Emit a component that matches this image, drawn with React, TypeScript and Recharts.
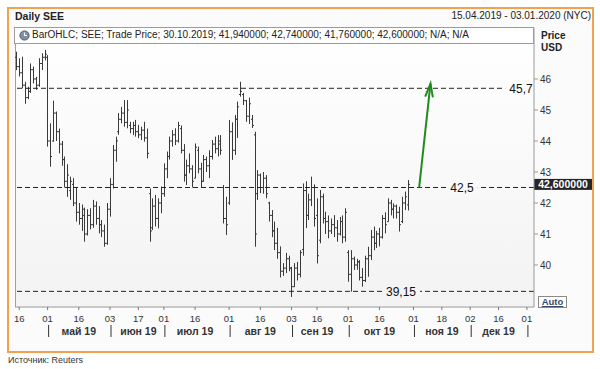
import React from 'react';
import { ComposedChart, Bar, XAxis, YAxis, ReferenceLine } from 'recharts';

const FONT = '"Liberation Sans", Arial, sans-serif';

// trading days counted from 15.04.2019; the axis runs on to 03.01.2020
const lastDay = 182;

const opens = [
  46.7, 46.4, 46.2, 45.8, 45.4, 45.6, 46.3, 46.0, 45.8, 46.5,
  46.7, 46.7, 44.0, 44.0, 44.9, 44.3, 43.9, 43.4, 42.7, 42.4,
  42.6, 42.0, 41.7, 41.5, 41.6, 41.0, 41.6, 41.3, 41.9, 41.5,
  41.3, 41.1, 40.7, 41.8, 42.6, 43.7, 44.3, 44.7, 44.9, 44.6,
  44.5, 44.4, 44.5, 44.3, 44.2, 44.35, 44.1, 42.3, 41.2, 41.9,
  41.5, 42.0, 42.3, 43.1, 43.5, 44.0, 44.2, 44.0, 44.4, 43.7,
  42.9, 43.2, 43.1, 42.8, 43.7, 43.1, 42.7, 43.4, 43.2, 43.5,
  43.9, 43.75, 43.9, 42.5, 41.5, 42.0, 44.3, 43.7, 44.7, 45.5,
  45.5, 45.3, 44.8, 44.7, 44.2, 42.3, 42.9, 42.5, 42.8, 42.0,
  41.6, 41.1, 40.7, 40.4, 39.8, 39.9, 40.2, 39.9, 39.3, 39.9,
  39.7, 40.5, 42.4, 41.6, 42.1, 42.5, 41.6, 40.8, 42.2, 41.5,
  41.4, 41.1, 41.3, 41.2, 41.0, 41.4, 40.9, 40.4, 39.7, 40.2,
  40.0, 40.1, 39.6, 39.5, 40.2, 40.3, 40.9, 40.7, 41.0, 40.9,
  41.5, 41.4, 42.0, 41.8, 41.9, 41.7, 41.4, 42.0, 41.94,
];
const highs = [
  46.88, 46.67, 46.72, 45.91, 45.75, 46.5, 46.4, 46.07, 46.67, 46.83,
  46.94, 46.77, 44.57, 45.3, 44.95, 44.4, 44.0, 43.5, 43.25, 42.85,
  42.8, 42.5, 42.0, 41.95, 41.85, 41.8, 41.83, 42.1, 42.05, 41.9,
  41.45, 41.3, 42.0, 42.8, 43.87, 44.14, 44.9, 45.1, 45.32, 45.32,
  44.62, 44.62, 44.68, 44.52, 44.46, 44.62, 44.4, 42.47, 42.15, 42.26,
  42.15, 42.53, 43.28, 43.66, 44.14, 44.35, 44.41, 44.62, 44.5, 43.9,
  43.4, 43.6, 43.22, 43.92, 43.82, 43.3, 43.55, 43.5, 43.7, 44.03,
  44.14, 44.19, 44.19, 42.58, 42.2, 44.68, 44.6, 44.84, 45.27, 45.91,
  45.55, 45.32, 45.4, 44.84, 44.3, 43.06, 42.95, 43.0, 42.9, 42.04,
  41.77, 41.4, 41.2, 40.6, 40.06, 40.39, 40.3, 39.94, 40.06, 40.1,
  40.48, 42.63, 42.7, 42.3, 42.85, 42.6, 42.15, 42.42, 42.3, 41.72,
  41.6, 41.5, 41.61, 41.45, 41.55, 41.6, 41.83, 40.48, 40.48, 40.27,
  40.2, 40.16, 39.9, 40.3, 40.59, 41.13, 41.24, 41.1, 41.2, 41.61,
  41.7, 42.15, 42.1, 41.99, 41.95, 41.88, 42.2, 42.37, 42.74,
];
const lows = [
  46.29, 46.08, 45.7, 45.2, 45.35, 45.55, 45.86, 45.65, 45.75, 46.29,
  46.6, 43.82, 43.17, 43.98, 44.0, 43.6, 43.2, 42.5, 42.2, 42.1,
  41.9, 41.4, 41.3, 41.1, 40.75, 40.95, 41.15, 41.2, 41.3, 41.02,
  40.9, 40.59, 40.65, 41.56, 42.47, 43.33, 44.2, 44.57, 44.46, 44.41,
  44.25, 44.19, 44.14, 44.09, 44.03, 43.98, 43.44, 40.75, 41.13, 41.24,
  41.18, 41.67, 42.2, 42.8, 43.4, 43.82, 43.87, 43.95, 43.6, 42.69,
  42.58, 42.96, 42.5, 42.8, 42.96, 42.5, 42.69, 43.0, 42.8, 43.4,
  43.6, 43.5, 43.55, 41.34, 40.97, 41.94, 43.39, 43.55, 44.1, 45.43,
  45.16, 44.62, 44.55, 44.42, 40.59, 42.1, 42.32, 42.3, 42.15, 41.4,
  40.9, 40.48, 40.2, 39.6, 39.65, 39.74, 39.8, 38.97, 39.29, 39.5,
  39.6, 40.3, 41.19, 41.45, 41.9, 41.24, 40.05, 40.7, 41.34, 41.0,
  40.86, 41.0, 40.9, 40.75, 40.95, 40.7, 40.75, 39.46, 39.14, 39.84,
  39.85, 39.5, 39.3, 39.45, 39.62, 40.16, 40.48, 40.55, 40.6, 40.85,
  41.02, 41.4, 41.6, 41.5, 41.5, 41.08, 41.35, 41.77, 41.76,
];
const closes = [
  46.4, 46.2, 45.8, 45.4, 45.6, 46.3, 46.0, 45.8, 46.5, 46.7,
  46.8, 44.0, 43.5, 44.9, 44.3, 43.9, 43.4, 42.7, 42.9, 42.7,
  42.0, 41.7, 41.5, 41.8, 41.0, 41.6, 41.3, 41.9, 41.5, 41.3,
  41.1, 40.7, 41.8, 42.6, 43.7, 44.0, 44.7, 44.9, 44.6, 45.0,
  44.4, 44.5, 44.3, 44.2, 44.35, 44.1, 43.6, 41.1, 41.9, 41.5,
  42.0, 42.3, 43.1, 43.5, 44.0, 44.2, 44.0, 44.5, 43.7, 42.9,
  43.2, 43.1, 42.7, 43.8, 43.1, 42.7, 43.4, 43.2, 43.5, 43.9,
  43.75, 44.0, 43.7, 41.5, 41.3, 44.3, 43.7, 44.7, 45.1, 45.6,
  45.3, 44.8, 45.2, 44.5, 41.0, 42.9, 42.5, 42.8, 42.3, 41.6,
  41.1, 40.7, 40.4, 39.8, 39.9, 40.2, 39.9, 39.3, 39.9, 39.7,
  40.4, 42.4, 41.6, 42.1, 42.5, 41.5, 40.3, 42.2, 41.5, 41.4,
  41.1, 41.3, 41.2, 41.0, 41.4, 40.9, 41.7, 39.7, 40.2, 40.0,
  40.1, 39.6, 39.5, 40.2, 40.3, 40.9, 40.7, 41.0, 40.9, 41.5,
  41.3, 42.0, 41.8, 41.9, 41.7, 41.3, 42.0, 42.2, 42.6,
];

const priceTicks = [40, 41, 42, 43, 44, 45, 46];
const tickDays = [1, 11, 22, 33, 43, 52, 63, 75, 86, 97, 106, 117, 128, 140, 150, 160, 170, 180];
const tickLabels = ['16', '01', '16', '03', '17', '01', '16', '01', '16', '03', '16', '01', '16', '01', '18', '02', '16', '01'];
const monthStartDays = [11, 33, 52, 75, 97, 117, 140, 160, 180];
const monthMidDays = [22, 43, 63, 86, 106, 128, 150, 170];
const monthLabels = ['май 19', 'июн 19', 'июл 19', 'авг 19', 'сен 19', 'окт 19', 'ноя 19', 'дек 19'];

const resistance = 45.7;
const breakout = 42.5;
const support = 39.15;
const lastClose = 42.6;
const target = { from: { day: 142, price: 42.5 }, to: { day: 146, price: 45.85 } };

const rows = Array.from({ length: lastDay + 1 }, (_, d) => ({
  day: d,
  range: d < highs.length ? [lows[d], highs[d]] : null,
  open: opens[d],
  close: closes[d],
}));

function OhlcBar(props: any) {
  const { x, y, width, height, payload } = props;
  if (!payload || !payload.range || height == null) return null;
  const [lo, hi] = payload.range;
  const cx = Math.round(x + width / 2) + 0.5;
  const yOf = (v: number) => y + ((hi - v) / (hi - lo)) * height;
  return (
    <g stroke="#3a3a3a" strokeWidth={1}>
      <line x1={cx} x2={cx} y1={y} y2={y + height} />
      <line x1={cx - 1.5} x2={cx} y1={yOf(payload.open)} y2={yOf(payload.open)} />
      <line x1={cx} x2={cx + 1.5} y1={yOf(payload.close)} y2={yOf(payload.close)} />
    </g>
  );
}

function DayTick(props: any) {
  const { x, y, payload } = props;
  const k = tickDays.indexOf(payload.value);
  if (k < 0) return null;
  const m = monthMidDays.indexOf(payload.value);
  const isStart = monthStartDays.includes(payload.value);
  return (
    <g fontFamily={FONT}>
      <line x1={x} x2={x} y1={y} y2={y + 3} stroke="#777" />
      <text x={x} y={y + 14.5} textAnchor="middle" fontSize={9.5} fill="#333">{tickLabels[k]}</text>
      {isStart && <line x1={x + 1} x2={x + 1} y1={y + 18} y2={y + 30} stroke="#333" />}
      {m >= 0 && (
        <text x={x} y={y + 27.5} textAnchor="middle" fontSize={10.5} fontWeight="bold" fill="#333">
          {monthLabels[m]}
        </text>
      )}
    </g>
  );
}

const levelLabel = (text: string, fromRight: number, bg: string) => (p: any) => {
  const vb = p.viewBox;
  const cx = vb.x + vb.width - fromRight;
  const w = text.length * 6.4 + 6;
  return (
    <g>
      <rect x={cx - w / 2} y={vb.y - 7} width={w} height={14} fill={bg} />
      <text x={cx} y={vb.y} dy="0.36em" textAnchor="middle" fontSize={12} fill="#111" fontFamily={FONT}>
        {text}
      </text>
    </g>
  );
};

const closeLabel = (p: any) => {
  const vb = p.viewBox;
  const x0 = vb.x + vb.width;
  return (
    <g>
      <rect x={x0} y={vb.y - 5.5} width={58} height={11} fill="#262626" />
      <text x={x0 + 29} y={vb.y} dy="0.36em" textAnchor="middle" fontSize={10.5} fontWeight="bold" fill="#fff" fontFamily={FONT}>
        {lastClose.toFixed(6).replace('.', ',')}
      </text>
    </g>
  );
};

function Arrow(props: any) {
  const { x1, y1, x2, y2 } = props;
  const ang = Math.atan2(y1 - y2, x1 - x2);
  const len = 14;
  const a = ang - 0.28;
  const b = ang + 0.28;
  return (
    <g stroke="#1f8a1f" strokeWidth={2} fill="none">
      <line x1={x1} y1={y1} x2={x2} y2={y2} />
      <polyline
        points={`${x2 + len * Math.cos(a)},${y2 + len * Math.sin(a)} ${x2},${y2} ${x2 + len * Math.cos(b)},${y2 + len * Math.sin(b)}`}
      />
    </g>
  );
}

function ClockIcon() {
  return (
    <svg width={11} height={11} style={{ position: 'absolute', left: 19, top: 30 }}>
      <circle cx={5.5} cy={5.5} r={4.6} fill="#7d8fa3" stroke="#4d5d70" />
      <path d="M5.5 2.5 V5.5 H8" stroke="#fff" strokeWidth={1.2} fill="none" />
    </svg>
  );
}

export default function App() {
  return (
    <div style={{ position: 'absolute', left: 0, top: 0, width: 600, height: 369, background: '#fff', fontFamily: FONT, color: '#222' }}>
      <div
        style={{
          position: 'absolute', left: 7, top: 7, width: 587, height: 346, boxSizing: 'border-box',
          border: '2px solid #f2a24e', background: '#fbfbfb',
        }}
      />
      <div style={{ position: 'absolute', left: 15, top: 10, fontSize: 10.5, fontWeight: 'bold' }}>Daily SEE</div>
      <div style={{ position: 'absolute', right: 9, top: 10, fontSize: 10 }}>15.04.2019 - 03.01.2020 (NYC)</div>
      <div style={{ position: 'absolute', left: 15, top: 28, width: 519, height: 279, background: 'linear-gradient(#ffffff, #f3f3f3)', borderLeft: '1px solid #a0a0a0', boxSizing: 'border-box' }} />

      <ComposedChart
        width={600}
        height={345}
        data={rows}
        margin={{ top: 28, left: 15, right: 26, bottom: 0 }}
        style={{ position: 'absolute', left: 0, top: 0, fontFamily: FONT }}
      >
        <XAxis
          dataKey="day"
          type="category"
          ticks={tickDays}
          interval={0}
          height={38}
          tickSize={0}
          tickMargin={0}
          tickLine={false}
          axisLine={{ stroke: '#9a9a9a' }}
          tick={<DayTick />}
        />
        <YAxis
          orientation="right"
          domain={[38.645, 47.645]}
          allowDataOverflow
          ticks={priceTicks}
          width={40}
          tickSize={4}
          tickMargin={2}
          axisLine={{ stroke: '#9a9a9a' }}
          tickLine={{ stroke: '#9a9a9a' }}
          tick={{ fontSize: 10, fill: '#333', fontFamily: FONT }}
        />
        <ReferenceLine y={resistance} stroke="#222" strokeDasharray="5 3" label={levelLabel('45,7', 13, '#fdfdfd')} />
        <ReferenceLine y={breakout} stroke="#222" strokeDasharray="5 3" label={levelLabel('42,5', 72, '#f9f9f9')} />
        <ReferenceLine y={support} stroke="#222" strokeDasharray="5 3" label={levelLabel('39,15', 133, '#f4f4f4')} />
        <ReferenceLine y={lastClose} stroke="none" label={closeLabel} />
        <Bar dataKey="range" shape={<OhlcBar />} isAnimationActive={false} />
        <ReferenceLine
          segment={[
            { x: target.from.day, y: target.from.price },
            { x: target.to.day, y: target.to.price },
          ]}
          shape={<Arrow />}
        />
      </ComposedChart>

      <div style={{ position: 'absolute', left: 14, top: 27, width: 520, height: 17, boxSizing: 'border-box', border: '1px solid #9c9c9c', background: '#fff' }} />
      <ClockIcon />
      <div style={{ position: 'absolute', left: 32, top: 29, fontSize: 10, whiteSpace: 'nowrap' }}>
        BarOHLC; SEE; Trade Price; 30.10.2019; 41,940000; 42,740000; 41,760000; 42,600000; N/A; N/A
      </div>
      <div style={{ position: 'absolute', left: 541, top: 30, fontSize: 10, fontWeight: 'bold' }}>Price</div>
      <div style={{ position: 'absolute', left: 541, top: 42, fontSize: 10, fontWeight: 'bold' }}>USD</div>
      <div
        style={{
          position: 'absolute', left: 538, top: 296, width: 29, height: 12, boxSizing: 'border-box',
          border: '1px solid #8a8a8a', background: '#fff', fontSize: 9.5, fontWeight: 'bold',
          color: '#3a4a66', textDecoration: 'underline', textAlign: 'center', lineHeight: '10px',
        }}
      >
        Auto
      </div>
      <div style={{ position: 'absolute', left: 8, top: 355, fontSize: 9, color: '#333' }}>Источник: Reuters</div>
    </div>
  );
}
